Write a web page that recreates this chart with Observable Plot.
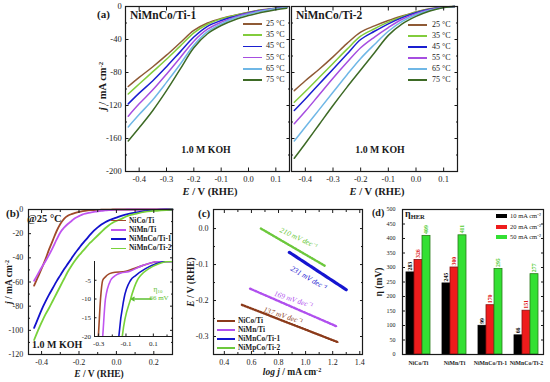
<!DOCTYPE html>
<html>
<head>
<meta charset="utf-8">
<script src="https://cdn.jsdelivr.net/npm/d3@7"></script>
<script src="https://cdn.jsdelivr.net/npm/@observablehq/plot@0.6"></script>
<style>
html,body{margin:0;padding:0;background:#fff;}
#root{position:relative;width:550px;height:382px;overflow:hidden;background:#fff;font-family:"Liberation Serif","Times New Roman",serif;color:#1a1a1a;}
#root svg{overflow:visible;}
#root svg text{font-family:"Liberation Serif","Times New Roman",serif;}
.t{position:absolute;white-space:nowrap;line-height:1;}
.t sup{font-size:0.65em;vertical-align:0.45em;line-height:0;}
.t sub{font-size:0.65em;vertical-align:-0.25em;line-height:0;}
</style>
</head>
<body>
<div id="root"></div>
<script>
// ---------------- (a) temperature series ----------------
const temps = ["25 °C","35 °C","45 °C","55 °C","65 °C","75 °C"];
const tempColors = ["#8f5a35","#82cc3c","#1a1fd0","#a64ee0","#6fb7e6","#3d6a25"];
const potA = [-0.44,-0.40,-0.35,-0.30,-0.25,-0.20,-0.15,-0.10,-0.05,0.00,0.05,0.10,0.14];
const jTi1 = [
  [-97,-86,-73,-59,-44,-29,-20,-14.5,-10.5,-7,-4,-2,-0.8],
  [-106,-94,-79,-64,-48,-32,-21.5,-15,-11,-7.3,-4.2,-2.1,-0.9],
  [-118,-105,-90,-73,-55,-37,-24,-17,-12,-7.8,-4.5,-2.3,-1],
  [-133,-118,-101,-82,-62,-42,-27.5,-19,-13,-8.3,-4.8,-2.4,-1],
  [-146,-131,-113,-92,-70,-47,-30.5,-21,-14,-9.2,-5.3,-2.7,-1.2],
  [-163,-147,-126,-102,-76,-50,-33,-23,-16,-11,-7,-3.8,-2]
];
const jTi2 = [
  [-102,-90,-76,-61,-45,-31,-23.5,-17,-11.5,-6.5,-2.8,-0.8,0],
  [-116,-103,-86,-69,-52,-36,-27,-19,-12.5,-7,-3.1,-0.9,0],
  [-126,-112,-94,-76,-58,-40,-30,-21,-13.5,-7.6,-3.4,-1,0],
  [-142,-127,-107,-87,-68,-50,-37,-25.5,-15.5,-8.6,-3.9,-1,0],
  [-163,-146,-125,-104,-83,-63,-46,-30,-18,-10,-4.6,-1.1,0],
  [-184,-166,-143,-120,-98,-77,-56,-35,-21,-12,-5.5,-1.2,0]
];
const xTicksA = [-0.4,-0.3,-0.2,-0.1,0.0,0.1];
const yTicksA = [0,-40,-80,-120,-160,-200];
const yMinorA = [-20,-60,-100,-140,-180];

// ---------------- (b) polarization curves at 25 °C ----------------
const seriesB = ["NiCo/Ti","NiMn/Ti","NiMnCo/Ti-1","NiMnCo/Ti-2"];
const colorsB = ["#a04a2a","#c055f0","#1212cc","#78d23a"];
const potB = [-0.44,-0.42,-0.40,-0.38,-0.36,-0.34,-0.32,-0.30,-0.28,-0.26,-0.24,-0.22,-0.20,-0.18,-0.16,-0.14,-0.12,-0.10,-0.08,-0.06,-0.04,-0.02,0.00,0.03,0.06,0.10,0.15,0.20,0.30];
const jNiCo = [-63,-56,-49,-41.5,-33,-25.5,-18,-12,-7.7,-5.2,-3.8,-2.8,-2,-1.4,-0.9,-0.6,-0.4,-0.3,-0.2,-0.1,-0.1,0,0,0,0,0,0,0,0];
const jNiMn = [-59,-53.5,-48,-43,-37.5,-31.5,-25,-19,-15,-12,-9.5,-7,-5.5,-4,-3.2,-2.5,-2,-1.5,-1.1,-0.8,-0.5,-0.3,-0.15,-0.05,0,0,0,0,0];
const jTi1B = [-98,-90.5,-83,-76.5,-70.5,-65,-59.5,-54.5,-49.5,-45,-40.5,-36,-32,-28,-24.5,-20.8,-17.5,-14.8,-12.5,-10.5,-9,-7.8,-6.7,-5,-3.8,-2.6,-1.4,-0.5,0];
const jTi2B = [-108,-100.5,-93.5,-87,-81.5,-75.5,-69.5,-63.5,-57.5,-51.5,-46.5,-42,-38,-34.5,-31,-27.5,-24.5,-21.5,-18.5,-15.5,-13,-11,-9.5,-7.5,-5.3,-3.7,-2,-1.2,0];
const xTicksB = [-0.4,-0.2,0.0,0.2];
const xMinorB = [-0.3,-0.1,0.1];
const yTicksB = [0,-20,-40,-60,-80,-100,-120];
const yMinorB = [-10,-30,-50,-70,-90,-110];
// inset (E, j) pairs
const insetNiCo = [[-0.31,-24],[-0.302,-20],[-0.286,-10],[-0.27,-5],[-0.25,-4.1],[-0.236,-3.6],[-0.2,-3.0],[-0.1,-2.6],[0.02,-1.1],[0.14,0],[0.24,0]];
const insetNiMn = [[-0.278,-24],[-0.27,-20],[-0.25,-10],[-0.212,-5],[-0.19,-4.1],[-0.176,-3.7],[-0.14,-3.1],[-0.08,-2.7],[0.02,-1.1],[0.14,0],[0.24,0]];
const insetTi1 = [[-0.16,-24],[-0.152,-20],[-0.115,-10],[-0.066,-5],[-0.03,-3.75],[0.043,-1.9],[0.12,-0.6],[0.19,0],[0.24,0]];
const insetTi2 = [[-0.135,-24],[-0.127,-20],[-0.066,-10],[-0.017,-5],[0.007,-3.75],[0.068,-1.9],[0.14,-0.6],[0.21,0],[0.24,0]];
const eta10Ti2 = 66; // mV
const xTicksIn = [-0.3,-0.1,0.1];
const xMinorIn = [-0.2,0.0,0.2];
const yTicksIn = [-5,-10,-15,-20];

// ---------------- (c) Tafel lines ----------------
const tafelLegend = ["NiCo/Ti","NiMn/Ti","NiMnCo/Ti-1","NiMpCo/Ti-2"];
const tafelColors = ["#8b3a1a","#b050ee","#1515d0","#6cc83c"];
const tafelLogJ = [[0.53,1.24],[0.59,1.23],[0.88,1.30],[0.67,1.14]];
const tafelE = [[-0.212,-0.316],[-0.167,-0.272],[-0.066,-0.170],[0.000,-0.103]];
const tafelSlopes = ["137 mV dec⁻¹","169 mV dec⁻¹","231 mV dec⁻¹","210 mV dec⁻¹"];
const xTicksC = [0.4,0.6,0.8,1.0,1.2,1.4];
const xMinorC = [0.5,0.7,0.9,1.1,1.3];
const yTicksC = [0.0,-0.1,-0.2,-0.3];
const yMinorC = [-0.05,-0.15,-0.25];

// ---------------- (d) overpotentials ----------------
const groupsD = ["NiCo/Ti","NiMn/Ti","NiMnCo/Ti-1","NiMnCo/Ti-2"];
const currentsD = ["10 mA cm⁻²","20 mA cm⁻²","50 mA cm⁻²"];
const colorsD = ["#000000","#ee1c1c","#33e033"];
const strokesD = ["#000000","#8a0f0f","#2a7a1a"];
const labelColorsD = ["#000000","#e01818","#55cc33"];
const eta10 = [283,245,99,66];
const eta20 = [326,300,170,151];
const eta50 = [409,411,295,277];
const yTicksD = [0,50,100,150,200,250,300,350,400,450,500];

// ---------------- helpers ----------------
const serif = '"Liberation Serif","Times New Roman",serif';
const root = document.getElementById("root");
function addSvg(svg, left, top) {
  svg.style.position = "absolute"; svg.style.left = left + "px"; svg.style.top = top + "px";
  root.appendChild(svg);
}
function txt(html, x, y, {size = 9, weight = "normal", style = "normal", color = "#1a1a1a", anchor = "start", rotate = 0} = {}) {
  const d = document.createElement("div");
  d.className = "t";
  d.innerHTML = html;
  d.style.left = x + "px"; d.style.top = y + "px";
  d.style.fontSize = size + "px"; d.style.fontWeight = weight; d.style.fontStyle = style; d.style.color = color;
  const tx = anchor === "middle" ? "-50%" : anchor === "end" ? "-100%" : "0";
  d.style.transform = `translate(${tx},-50%)` + (rotate ? ` rotate(${rotate}deg)` : "");
  root.appendChild(d);
}
function legend(labels, colors, x0, y0, rowH, len, gap, lw, font) {
  labels.forEach((lab, i) => {
    const y = y0 + i * rowH;
    const s = document.createElement("div");
    s.style.cssText = `position:absolute;left:${x0}px;top:${y - lw / 2}px;width:${len}px;height:${lw}px;background:${colors[i]}`;
    root.appendChild(s);
    txt(lab, x0 + len + gap, y, font);
  });
}
function axes({xT, xM = [], yT, yM = [], xFmt, yFmt, showY = true, showX = true, t = 3.5, tm = 2, px = 8, py = 7, fs = 8, mirror = true}) {
  const out = [Plot.frame({stroke: "#1a1a1a", strokeWidth: 1.2})];
  out.push(Plot.axisY(yT, {anchor: "left", tickSize: -t, tickPadding: py, tickFormat: yFmt, label: null, fill: showY ? "#1a1a1a" : "none", fontSize: fs, fontFamily: serif}));
  if (yM.length) out.push(Plot.axisY(yM, {anchor: "left", tickSize: -tm, label: null, fill: "none"}));
  out.push(Plot.axisX(xT, {anchor: "bottom", tickSize: -t, tickPadding: px, tickFormat: xFmt, label: null, fill: showX ? "#1a1a1a" : "none", fontSize: fs, fontFamily: serif}));
  if (xM.length) out.push(Plot.axisX(xM, {anchor: "bottom", tickSize: -tm, label: null, fill: "none"}));
  if (mirror) {
    out.push(Plot.axisY(yT, {anchor: "right", tickSize: -t, label: null, fill: "none"}));
    if (yM.length) out.push(Plot.axisY(yM, {anchor: "right", tickSize: -tm, label: null, fill: "none"}));
    out.push(Plot.axisX(xT, {anchor: "top", tickSize: -t, label: null, fill: "none"}));
    if (xM.length) out.push(Plot.axisX(xM, {anchor: "top", tickSize: -tm, label: null, fill: "none"}));
  }
  return out;
}
const f1 = d => d.toFixed(1);
const fs = d => String(d);

// ---------------- (a) ----------------
function panelA(values, width, mL, mR, showY) {
  const rows = values.flatMap((arr, i) => arr.map((j, k) => ({E: potA[k], j, T: temps[i]})));
  return Plot.plot({
    width, height: 200, marginLeft: mL, marginRight: mR, marginTop: 6, marginBottom: 29,
    x: {domain: [-0.45, 0.15]}, y: {domain: [-200, 0]},
    color: {domain: temps, range: tempColors},
    style: {fontFamily: serif, fontSize: "8.5px", color: "#1a1a1a", background: "transparent"},
    marks: [
      Plot.line(rows, {x: "E", y: "j", z: "T", stroke: "T", strokeWidth: 1.5, curve: "catmull-rom"}),
      ...axes({xT: xTicksA, yT: yTicksA, yM: yMinorA, xFmt: f1, yFmt: fs, showY, fs: 8.5, px: 8, py: 7.3})
    ]
  });
}
addSvg(panelA(jTi1, 206, 40, 2, true), 85, 0);
addSvg(panelA(jTi2, 170, 2, 2, false), 289, 0);

// ---------------- (b) ----------------
const mainB = [jNiCo, jNiMn, jTi1B, jTi2B];
const rowsB = mainB.flatMap((arr, i) => arr.map((j, k) => ({E: potB[k], j, S: seriesB[i]})));
addSvg(Plot.plot({
  width: 175, height: 192, marginLeft: 28, marginRight: 3, marginTop: 19, marginBottom: 28,
  x: {domain: [-0.47, 0.30]}, y: {domain: [-120, 0]},
  color: {domain: seriesB, range: colorsB},
  style: {fontFamily: serif, fontSize: "8px", color: "#1a1a1a", background: "transparent"},
  marks: [
    Plot.line(rowsB, {x: "E", y: "j", z: "S", stroke: "S", strokeWidth: 1.8, curve: "catmull-rom"}),
    ...axes({xT: xTicksB, xM: xMinorB, yT: yTicksB, yM: yMinorB, xFmt: f1, yFmt: fs, fs: 8, px: 7.7, py: 8.3, t: 3})
  ]
}), 0, 190);

const insetSets = [insetNiCo, insetNiMn, insetTi1, insetTi2];
const rowsIn = insetSets.flatMap((arr, i) => arr.map(([E, j]) => ({E, j, S: seriesB[i]})));
addSvg(Plot.plot({
  width: 100, height: 95, marginLeft: 20, marginRight: 2, marginTop: 6, marginBottom: 14,
  x: {domain: [-0.33, 0.24]}, y: {domain: [-20, 0]},
  color: {domain: seriesB, range: colorsB},
  style: {fontFamily: serif, fontSize: "7px", color: "#1a1a1a", background: "transparent"},
  marks: [
    Plot.line(rowsIn, {x: "E", y: "j", z: "S", stroke: "S", strokeWidth: 1.6, curve: "monotone-x", clip: true}),
    Plot.ruleX([-0.33], {stroke: "#1a1a1a", strokeWidth: 1}),
    Plot.ruleY([-20], {stroke: "#1a1a1a", strokeWidth: 1}),
    Plot.axisY(yTicksIn, {anchor: "left", tickSize: -2.5, tickPadding: 6, tickFormat: fs, label: null, fontSize: 7, fontFamily: serif}),
    Plot.axisX(xTicksIn, {anchor: "bottom", tickSize: -2.5, tickPadding: 7, tickFormat: f1, label: null, fontSize: 7, fontFamily: serif}),
    Plot.axisX(xMinorIn, {anchor: "bottom", tickSize: -1.5, label: null, fill: "none"}),
    Plot.arrow([{x1: 0.085, x2: -eta10Ti2 / 1000 + 0.004, y: -10}], {x1: "x1", x2: "x2", y1: "y", y2: "y", stroke: "#5cc030", strokeWidth: 1.3, headLength: 4})
  ]
}), 74, 255);

// ---------------- (c) ----------------
const rowsC = tafelLogJ.flatMap((xs, i) => xs.map((x, k) => ({x, E: tafelE[i][k], S: tafelLegend[i]})));
const midC = tafelLogJ.map((xs, i) => ({x: (xs[0] + xs[1]) / 2, E: (tafelE[i][0] + tafelE[i][1]) / 2, S: tafelLegend[i], label: tafelSlopes[i]}));
const slopeStyle = [
  {dx: -7, dy: -8, rotate: 18},
  {dx: 0, dy: -8, rotate: 18},
  {dx: -9, dy: 7, rotate: 30},
  {dx: 6, dy: -9, rotate: 25}
];
addSvg(Plot.plot({
  width: 185, height: 192, marginLeft: 33, marginRight: 3, marginTop: 19, marginBottom: 28,
  x: {domain: [0.32, 1.42]}, y: {domain: [-0.35, 0.053]},
  color: {domain: tafelLegend, range: tafelColors},
  style: {fontFamily: serif, fontSize: "8px", color: "#1a1a1a", background: "transparent"},
  marks: [
    Plot.line(rowsC, {x: "x", y: "E", z: "S", stroke: "S", strokeWidth: 1.1}),
    Plot.line(rowsC.filter(d => d.S !== "NiMnCo/Ti-1"), {x: "x", y: "E", z: "S", stroke: "S", strokeWidth: 2.4, strokeDasharray: "1.2,1.6"}),
    Plot.line(rowsC.filter(d => d.S === "NiMnCo/Ti-1"), {x: "x", y: "E", z: "S", stroke: "S", strokeWidth: 3.2, strokeDasharray: "2.6,0.9"}),
    ...midC.map((m, i) => Plot.text([m], {x: "x", y: "E", text: "label", fill: tafelColors[i], fontStyle: "italic", fontSize: 7.5, fontFamily: serif, ...slopeStyle[i]})),
    ...axes({xT: xTicksC, xM: xMinorC, yT: yTicksC, yM: yMinorC, xFmt: f1, yFmt: f1, fs: 8, px: 7.7, py: 8, t: 3})
  ]
}), 180, 190);

// ---------------- (d) ----------------
const rowsD = groupsD.flatMap((g, i) => [eta10[i], eta20[i], eta50[i]].map((v, k) => ({g, c: currentsD[k], k, v})));
addSvg(Plot.plot({
  width: 182, height: 192, marginLeft: 37, marginRight: 4, marginTop: 19, marginBottom: 28,
  fx: {domain: groupsD, paddingInner: 0.33, paddingOuter: 0.12, label: null, axis: "bottom", tickSize: 0, tickPadding: 6},
  x: {domain: currentsD, padding: 0, axis: null},
  y: {domain: [0, 500], axis: null},
  color: {domain: currentsD, range: colorsD},
  style: {fontFamily: serif, fontSize: "5.8px", fontWeight: "bold", color: "#1a1a1a", background: "transparent"},
  marks: [
    Plot.barY(rowsD, {fx: "g", x: "c", y: "v", fill: "c", stroke: d => strokesD[d.k], strokeWidth: 0.8}),
    Plot.text(rowsD, {fx: "g", x: "c", y: "v", text: d => String(d.v), fill: d => labelColorsD[d.k], rotate: -90, textAnchor: "start", dy: -2, fontSize: 5.8, fontFamily: serif})
  ]
}), 365, 190);
addSvg(Plot.plot({
  width: 182, height: 192, marginLeft: 37, marginRight: 4, marginTop: 19, marginBottom: 28,
  y: {domain: [0, 500]},
  style: {fontFamily: serif, fontSize: "6px", color: "#1a1a1a", background: "transparent"},
  marks: [
    Plot.frame({stroke: "#1a1a1a", strokeWidth: 1.2}),
    Plot.axisY(yTicksD, {anchor: "left", tickSize: -3, tickPadding: 10, tickFormat: fs, label: null, fontSize: 6, fontFamily: serif}),
    Plot.axisY(yTicksD, {anchor: "right", tickSize: -3, label: null, fill: "none"})
  ]
}), 365, 190);

// ---------------- text annotations ----------------
// (a)
txt("(a)", 97, 14, {size: 11, weight: "bold"});
txt("NiMnCo/Ti-1", 130, 16, {size: 11.5, weight: "bold"});
txt("NiMnCo/Ti-2", 296, 16, {size: 11.5, weight: "bold"});
txt("1.0 M KOH", 206, 150, {size: 9.8, weight: "bold", anchor: "middle"});
txt("1.0 M KOH", 380, 150, {size: 9.8, weight: "bold", anchor: "middle"});
txt("<i>E</i> / V (RHE)", 210, 192, {size: 10.5, weight: "bold", anchor: "middle"});
txt("<i>E</i> / V (RHE)", 377, 192, {size: 10.5, weight: "bold", anchor: "middle"});
txt("<i>j</i> / mA cm<sup>-2</sup>", 103, 86, {size: 10.5, weight: "bold", anchor: "middle", rotate: -90});
legend(temps, tempColors, 243, 24, 11.2, 19, 4, 1.8, {size: 8});
legend(temps, tempColors, 408, 25, 11, 19, 5, 1.8, {size: 8});
// (b)
txt("(b)", 6, 213, {size: 11, weight: "bold"});
txt("@25 °C", 27, 219, {size: 10.5, weight: "bold"});
txt("1.0 M KOH", 32, 345, {size: 10, weight: "bold"});
txt("<i>E</i> / V (RHE)", 99, 375, {size: 9.5, weight: "bold", anchor: "middle"});
txt("<i>j</i> / mA cm<sup>-2</sup>", 10, 282, {size: 9.5, weight: "bold", anchor: "middle", rotate: -90});
legend(seriesB, colorsB, 111, 220.5, 9.3, 15, 3, 1.8, {size: 7.4, weight: "bold"});
txt("η<sub>10</sub>", 158, 290, {size: 7.5, color: "#5cc030", anchor: "middle"});
txt("66 mV", 159, 298, {size: 7, color: "#5cc030", anchor: "middle"});
// (c)
txt("(c)", 198, 213, {size: 11, weight: "bold"});
txt("<i>E</i> / V (RHE)", 192, 282, {size: 9.5, weight: "bold", anchor: "middle", rotate: -90});
txt("<i>log j</i> / mA cm<sup>-2</sup>", 292, 373, {size: 9.5, weight: "bold", anchor: "middle"});
legend(tafelLegend, tafelColors, 217, 321, 9.1, 18, 3, 1.8, {size: 7.3, weight: "bold"});
// (d)
txt("(d)", 372, 213, {size: 10, weight: "bold"});
txt("η<sub>HER</sub>", 405, 214, {size: 10, weight: "bold"});
txt("η (mV)", 380, 282, {size: 9.5, weight: "bold", anchor: "middle", rotate: -90});
legend(currentsD, colorsD, 496, 216, 10.5, 11, 3, 4, {size: 6.5});
</script>
</body>
</html>
